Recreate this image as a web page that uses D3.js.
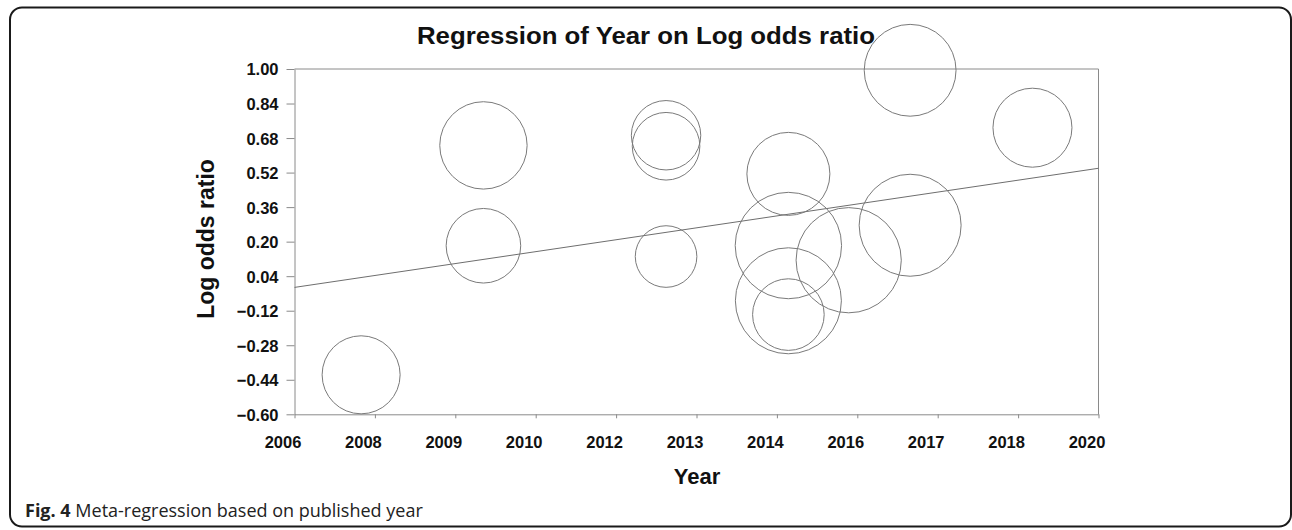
<!DOCTYPE html>
<html>
<head>
<meta charset="utf-8">
<script src="https://cdn.jsdelivr.net/npm/d3@7"></script>
<style>
  html, body { margin: 0; padding: 0; background: #fff; }
  svg { display: block; }
</style>
</head>
<body>
<svg id="chart" width="1292" height="530"></svg>
<script>
// Study-level effects: publication year, log odds ratio, relative weight (%)
const studyYears = [2007.16, 2009.29, 2009.29, 2012.47, 2012.47, 2012.47, 2014.60, 2014.60, 2014.60, 2014.60, 2015.65, 2016.72, 2016.72, 2018.85];
const logOddsRatios = [-0.417, 0.646, 0.181, 0.693, 0.642, 0.131, 0.514, 0.182, -0.074, -0.138, 0.114, 0.276, 0.994, 0.728];
const studyWeights = [5.90, 7.40, 5.39, 4.67, 4.43, 3.68, 6.68, 10.97, 10.89, 4.97, 10.73, 10.08, 8.17, 6.05];

// Fitted meta-regression line, evaluated at the ends of the year axis
const fitYears = [2006, 2020];
const fitValues = [-0.012, 0.540];

// Axis ticks
const xTickValues = [2006, 2007.4, 2008.8, 2010.2, 2011.6, 2013, 2014.4, 2015.8, 2017.2, 2018.6, 2020];
const xTickLabels = ["2006", "2008", "2009", "2010", "2012", "2013", "2014", "2016", "2017", "2018", "2020"];
const yTickValues = [-0.60, -0.44, -0.28, -0.12, 0.04, 0.20, 0.36, 0.52, 0.68, 0.84, 1.00];

const svg = d3.select("#chart");
const plot = { left: 294.5, right: 1098.5, top: 69, bottom: 414.3 };

const x = d3.scaleLinear().domain([2006, 2020]).range([plot.left, plot.right]);
const y = d3.scaleLinear().domain([-0.6, 1.0]).range([plot.bottom, plot.top]);
const r = d3.scaleSqrt().domain([0, 100]).range([0, 160.6]);

// Card outline
svg.append("rect")
  .attr("x", 10).attr("y", 7.5)
  .attr("width", 1281).attr("height", 519)
  .attr("rx", 12).attr("ry", 12)
  .attr("fill", "none").attr("stroke", "#1a1a1a").attr("stroke-width", 2);

// Plot frame (top and right)
svg.append("path")
  .attr("d", `M${plot.left},${plot.top}H${plot.right}V${plot.bottom}`)
  .attr("fill", "none").attr("stroke", "#8a8a8a").attr("stroke-width", 1);

// Axes
const xAxis = svg.append("g")
  .attr("transform", `translate(0,${plot.bottom})`)
  .call(d3.axisBottom(x).tickValues(xTickValues)
    .tickFormat((d, i) => xTickLabels[i]).tickSize(4).tickSizeOuter(0));
xAxis.selectAll("path, line").attr("stroke", "#8a8a8a");
xAxis.selectAll("text")
  .attr("dx", -12).attr("y", 0).attr("dy", 0)
  .attr("transform", "translate(0,33.4)")
  .attr("fill", "#111")
  .style("font", "bold 16.5px 'Liberation Sans', Arial, sans-serif");

const yAxis = svg.append("g")
  .attr("transform", `translate(${plot.left},0)`)
  .call(d3.axisLeft(y).tickValues(yTickValues)
    .tickFormat(d3.format(".2f")).tickSize(8).tickSizeOuter(0));
yAxis.selectAll("path, line").attr("stroke", "#8a8a8a");
yAxis.selectAll("text")
  .attr("x", -16).attr("dy", "0.36em")
  .attr("fill", "#111")
  .style("font", "bold 16.5px 'Liberation Sans', Arial, sans-serif");

// Regression line
svg.append("line")
  .attr("x1", x(fitYears[0])).attr("y1", y(fitValues[0]))
  .attr("x2", x(fitYears[1])).attr("y2", y(fitValues[1]))
  .attr("stroke", "#6e6e6e").attr("stroke-width", 1);

// Study bubbles, area proportional to weight
const studies = studyYears.map((yr, i) => ({ year: yr, lor: logOddsRatios[i], w: studyWeights[i] }));
svg.append("g").selectAll("circle")
  .data(studies)
  .join("circle")
  .attr("cx", d => x(d.year))
  .attr("cy", d => y(d.lor))
  .attr("r", d => r(d.w))
  .attr("fill", "none")
  .attr("stroke", "#7a7a7a")
  .attr("stroke-width", 1);

// Titles
svg.append("text")
  .attr("x", 646).attr("y", 44)
  .attr("text-anchor", "middle")
  .attr("fill", "#111")
  .attr("textLength", 458).attr("lengthAdjust", "spacingAndGlyphs")
  .style("font", "bold 23px 'Liberation Sans', Arial, sans-serif")
  .text("Regression of Year on Log odds ratio");

svg.append("text")
  .attr("x", 697).attr("y", 484)
  .attr("text-anchor", "middle")
  .attr("fill", "#111")
  .style("font", "bold 22px 'Liberation Sans', Arial, sans-serif")
  .text("Year");

svg.append("text")
  .attr("transform", "translate(214,239) rotate(-90)")
  .attr("text-anchor", "middle")
  .attr("fill", "#111")
  .style("font", "bold 23px 'Liberation Sans', Arial, sans-serif")
  .text("Log odds ratio");

// Caption
const cap = svg.append("text")
  .attr("x", 25).attr("y", 516.5)
  .attr("fill", "#222")
  .style("font", "18px 'Open Sans', 'Noto Sans', sans-serif");
cap.append("tspan").style("font-weight", "bold").text("Fig. 4");
cap.append("tspan").text(" Meta-regression based on published year");
</script>
</body>
</html>
